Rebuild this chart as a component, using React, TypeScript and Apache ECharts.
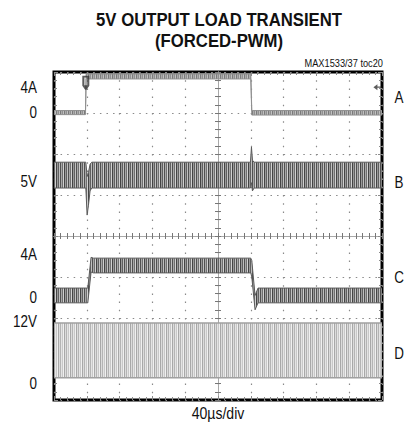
import React, { useEffect, useRef } from 'react';
import * as echarts from 'echarts';

const TITLE_LINES = ['5V OUTPUT LOAD TRANSIENT', '(FORCED-PWM)'];
const NOTE = 'MAX1533/37 toc20';
const X_LABEL = '40µs/div';
const LEFT_LABELS = ['4A', '0', '5V', '4A', '0', '12V', '0'];
const LEFT_LABEL_Y = [3.63, 3.0, 1.32, -0.46, -1.51, -2.08, -3.6];
const RIGHT_LABELS = ['A', 'B', 'C', 'D'];
const RIGHT_LABEL_Y = [3.38, 1.3, -1.02, -2.87];

// time in divisions (-5..5), amplitude in divisions (-4..4)
const aT = [-5, -4.04, -4.02, 1.0, 1.03, 5];
const aHi = [3.06, 3.06, 3.95, 3.95, 3.06, 3.06];
const aLo = [2.96, 2.96, 3.83, 3.83, 2.95, 2.95];

const bT = [-5, -4.03, -3.99, -3.95, -3.9, -3.85, 0.99, 1.02, 1.05, 1.1, 5];
const bHi = [1.8, 1.8, 1.45, 1.55, 1.75, 1.8, 1.8, 2.17, 1.85, 1.8, 1.8];
const bLo = [1.17, 1.17, 0.51, 0.75, 1.1, 1.17, 1.17, 1.3, 1.1, 1.17, 1.17];

const cT = [-5, -3.97, -3.87, -3.8, 1.0, 1.03, 1.13, 1.22, 5];
const cHi = [-1.27, -1.27, -0.52, -0.54, -0.54, -0.6, -1.45, -1.27, -1.27];
const cLo = [-1.63, -1.63, -0.88, -0.9, -0.9, -1.0, -1.8, -1.63, -1.63];

const dT = [-5, 5];
const dHi = [-2.12, -2.12];
const dLo = [-3.46, -3.46];

const trigT = [-4.03];
const trigY = [3.74];
const levelT = [4.86];
const levelY = [3.63];

const FONT = '"Liberation Sans", Arial, sans-serif';
const NARROW = 0.84;

function stripes(cols: string[], h = 4) {
  const w = cols.length;
  const rects = cols
    .map((c, i) => `<rect x="${i}" y="0" width="1" height="${h}" fill="${c}"/>`)
    .join('');
  const svg = `<svg xmlns="http://www.w3.org/2000/svg" width="${w}" height="${h}">${rects}</svg>`;
  return {
    image: 'data:image/svg+xml;charset=utf-8,' + encodeURIComponent(svg),
    repeat: 'repeat',
    imageWidth: w,
    imageHeight: h,
  };
}

function band(name: string, t: number[], hi: number[], lo: number[], fill: any, stroke: string, lw: number) {
  return {
    type: 'custom',
    name,
    coordinateSystem: 'cartesian2d',
    xAxisIndex: 0,
    yAxisIndex: 0,
    clip: true,
    silent: true,
    data: [[0, 0]],
    renderItem: (_p: any, api: any) => {
      const pts: number[][] = [];
      for (let i = 0; i < t.length; i++) pts.push(api.coord([t[i], hi[i]]));
      for (let i = t.length - 1; i >= 0; i--) pts.push(api.coord([t[i], lo[i]]));
      return {
        type: 'polygon',
        shape: { points: pts },
        style: { fill, stroke, lineWidth: lw },
      };
    },
  };
}

const gridLine = '#8a8a8a';

function frameX(position: 'top' | 'bottom', split: boolean) {
  return {
    type: 'value',
    min: -5,
    max: 5,
    interval: 1,
    position,
    axisLine: { show: false, onZero: false },
    axisLabel: { show: false },
    axisTick: { show: true, inside: true, length: 4, lineStyle: { color: gridLine } },
    minorTick: { show: true, splitNumber: 5, length: 3, lineStyle: { color: gridLine } },
    splitLine: { show: split, lineStyle: { color: gridLine, width: 1.2, type: [1.5, 6.7] } },
    minorSplitLine: { show: false },
  };
}
function frameY(position: 'left' | 'right', split: boolean) {
  return {
    type: 'value',
    min: -4,
    max: 4,
    interval: 1,
    position,
    axisLine: { show: false, onZero: false },
    axisLabel: { show: false },
    axisTick: { show: true, inside: true, length: 4, lineStyle: { color: gridLine } },
    minorTick: { show: true, splitNumber: 5, length: 3, lineStyle: { color: gridLine } },
    splitLine: { show: split, lineStyle: { color: gridLine, width: 1.2, type: [1.5, 5.06] } },
    minorSplitLine: { show: false },
  };
}
function centerX(inside: boolean) {
  return {
    type: 'value',
    min: -5,
    max: 5,
    interval: 1,
    position: 'bottom',
    axisLine: { show: true, onZero: true, onZeroAxisIndex: 0, lineStyle: { color: '#a8a8a8', width: 1 } },
    axisLabel: { show: false },
    axisTick: { show: true, inside, length: 3, lineStyle: { color: '#777' } },
    minorTick: { show: true, splitNumber: 5, length: 3, lineStyle: { color: '#777' } },
    splitLine: { show: false },
  };
}
function centerY(inside: boolean) {
  return {
    type: 'value',
    min: -4,
    max: 4,
    interval: 1,
    position: 'left',
    axisLine: { show: true, onZero: true, onZeroAxisIndex: 0, lineStyle: { color: '#a8a8a8', width: 1 } },
    axisLabel: { show: false },
    axisTick: { show: true, inside, length: 3, lineStyle: { color: '#777' } },
    minorTick: { show: true, splitNumber: 5, length: 3, lineStyle: { color: '#777' } },
    splitLine: { show: false },
  };
}

function txt(s: string, x: number, y: number, size: number, align: string, bold = false, scale = NARROW) {
  return {
    type: 'text',
    x,
    y,
    scaleX: scale,
    style: {
      text: s,
      font: `${bold ? 'bold ' : ''}${size}px ${FONT}`,
      fill: '#111',
      align,
      verticalAlign: 'middle',
    },
  };
}

export default function App() {
  const ref = useRef<HTMLDivElement>(null);
  useEffect(() => {
    if (!ref.current) return;
    const chart = echarts.init(ref.current, undefined, { renderer: 'svg' });
    const GL = 54, GT = 72, GW = 328, GH = 328;
    const yPix = (v: number) => GT + GH / 2 - (v * GH) / 8;

    const graphics: any[] = [];
    graphics.push(txt(TITLE_LINES[0], 219, 20, 19, 'center', true, 0.88));
    graphics.push(txt(TITLE_LINES[1], 219, 41, 19, 'center', true, 0.88));
    graphics.push(txt(NOTE, 383, 63, 11, 'right'));
    graphics.push(txt(X_LABEL, 218, 413, 16, 'center', false, 0.88));
    LEFT_LABELS.forEach((s, i) => graphics.push(txt(s, 37, yPix(LEFT_LABEL_Y[i]), 16, 'right')));
    RIGHT_LABELS.forEach((s, i) => graphics.push(txt(s, 399, yPix(RIGHT_LABEL_Y[i]), 16, 'center')));

    chart.setOption({
      animation: false,
      backgroundColor: '#fff',
      grid: { left: GL, top: GT, width: GW, height: GH, show: true, borderColor: '#000', borderWidth: 3, backgroundColor: '#fff' },
      xAxis: [frameX('bottom', true), frameX('top', false), centerX(true), centerX(false)],
      yAxis: [frameY('left', true), frameY('right', false), centerY(true), centerY(false)],
      graphic: graphics,
      series: [
        band('D', dT, dHi, dLo, stripes(['#b4b4b4', '#e4e4e4', '#c8c8c8', '#f0f0f0', '#a8a8a8', '#dcdcdc']), '#a0a0a0', 1.5),
        band('C', cT, cHi, cLo, stripes(['#444', '#999', '#606060', '#c0c0c0', '#505050', '#a8a8a8', '#707070', '#d0d0d0']), '#5a5a5a', 1),
        band('B', bT, bHi, bLo, stripes(['#444', '#999', '#606060', '#c0c0c0', '#505050', '#a8a8a8', '#707070', '#d0d0d0']), '#5a5a5a', 1),
        band('A', aT, aHi, aLo, stripes(['#7a7a7a', '#aaa', '#909090', '#c0c0c0']), '#909090', 1),
        {
          type: 'scatter',
          silent: true,
          xAxisIndex: 0,
          yAxisIndex: 0,
          symbol: 'path://M0,0 L10,0 L10,16 L6,22 L4,22 L0,16 Z M3,3 L3,15 L7,15 L7,3 Z',
          symbolSize: [7, 14],
          itemStyle: { color: '#333' },
          data: trigT.map((t, i) => [t, trigY[i]]),
        },
        {
          type: 'scatter',
          silent: true,
          xAxisIndex: 0,
          yAxisIndex: 0,
          symbol: 'path://M0,5 L7,0 L7,4 L14,4 L14,6 L7,6 L7,10 Z',
          symbolSize: [8, 6],
          itemStyle: { color: '#333' },
          data: levelT.map((t, i) => [t, levelY[i]]),
        },
      ],
    });
    return () => chart.dispose();
  }, []);
  return <div ref={ref} style={{ position: 'fixed', left: 0, top: 0, width: 408, height: 429 }} />;
}
